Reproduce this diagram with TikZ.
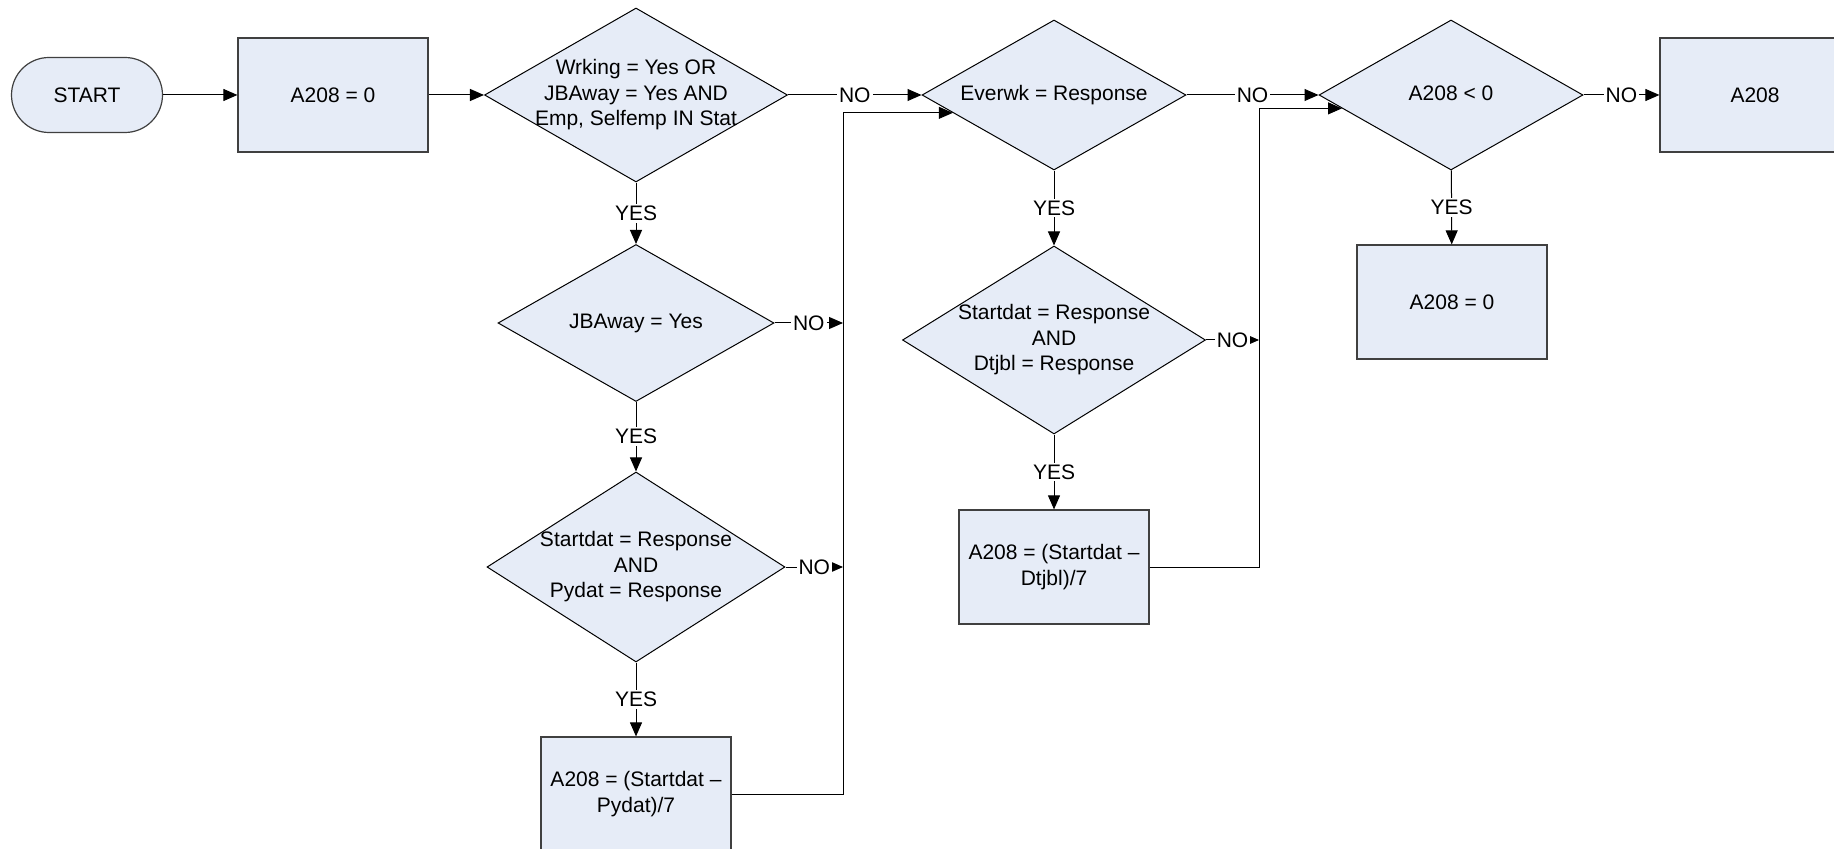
\documentclass[tikz,border=0pt]{standalone}
\usepackage{fontspec}
\setmainfont{Liberation Sans}
\usetikzlibrary{shapes.geometric, arrows.meta}

\definecolor{boxblue}{RGB}{230,236,247}
\newcommand{\dtxt}[1]{\makebox[0pt]{\begin{tabular}{@{}c@{}}#1\end{tabular}}}

\tikzset{
  base/.style={fill=boxblue, inner sep=0pt, align=center, font=\fontsize{10.5}{12.75}\selectfont},
  proc/.style={base, rectangle, draw=black!75, line width=0.6pt, minimum width=95pt, minimum height=57pt},
  term/.style={base, rectangle, draw=black!75, line width=0.6pt, rounded corners=18.75pt, minimum width=75.5pt, minimum height=37.5pt},
  test/.style={base, diamond, draw=black, line width=0.5pt},
  flow/.style={draw=black, line width=0.5pt, -{Triangle[length=7pt,width=6pt]}},
  lbl/.style={fill=white, inner sep=1pt, font=\fontsize{10.5}{12.75}\selectfont},
}

\begin{document}
\begin{tikzpicture}[x=0.5pt, y=-0.5pt]
  \useasboundingbox (0,0) rectangle (1834,849);
  \clip (0,0) rectangle (1834,849);
  % top row
  \node[term] (start) at (87,95) {START};
  \node[proc] (init) at (333,95) {A208 = 0};
  \node[test, minimum width=151.5pt, minimum height=87pt] (wrk) at (636,95)
    {\dtxt{Wrking = Yes OR\\JBAway = Yes AND\\Emp, Selfemp IN Stat}};
  \node[test, minimum width=132pt, minimum height=75pt] (evr) at (1054,95) {\dtxt{Everwk = Response}};
  \node[test, minimum width=132pt, minimum height=75pt] (neg) at (1451,95) {\dtxt{A208 < 0}};
  \node[proc] (fin) at (1755,95) {A208};
  % first column
  \node[test, minimum width=138pt, minimum height=78.5pt] (away) at (636,323) {\dtxt{JBAway = Yes}};
  \node[test, minimum width=149pt, minimum height=95pt] (pyd) at (636,567)
    {\dtxt{Startdat = Response\\AND\\Pydat = Response}};
  \node[proc] (calcP) at (636,794) {A208 = (Startdat --\\Pydat)/7};
  % second column
  \node[test, minimum width=151.5pt, minimum height=94pt] (dtj) at (1054,340)
    {\dtxt{Startdat = Response\\AND\\Dtjbl = Response}};
  \node[proc] (calcD) at (1054,567) {A208 = (Startdat --\\Dtjbl)/7};
  % third column
  \node[proc] (zero) at (1452,302) {A208 = 0};

  \coordinate (busA) at (843,0);
  \coordinate (busB) at (1259,0);

  \draw[flow] (start) -- (init);
  \draw[flow] (init) -- (wrk);
  \draw[flow] (wrk) -- node[lbl]{NO} (evr);
  \draw[flow] (evr) -- node[lbl]{NO} (neg);
  \draw[flow] (neg) -- node[lbl]{NO} (fin);
  \draw[flow] (wrk) -- node[lbl]{YES} (away);
  \draw[flow] (away) -- node[lbl]{YES} (pyd);
  \draw[flow] (pyd) -- node[lbl]{YES} (calcP);
  \draw[flow] (evr) -- node[lbl]{YES} (dtj);
  \draw[flow] (dtj) -- node[lbl]{YES} (calcD);
  \draw[flow] (neg) -- node[lbl]{YES} (zero);
  % loop backs
  \draw[flow] (away) -- node[lbl]{NO} (away -| busA);
  \draw[flow] (pyd) -- node[lbl]{NO} (pyd -| busA);
  \draw[flow] (calcP.east) -| (busA |- evr.190) -- (evr.190);
  \draw[flow] (dtj) -- node[lbl]{NO} (dtj -| busB);
  \draw[flow] (calcD.east) -| (busB |- neg.187) -- (neg.187);
\end{tikzpicture}
\end{document}
